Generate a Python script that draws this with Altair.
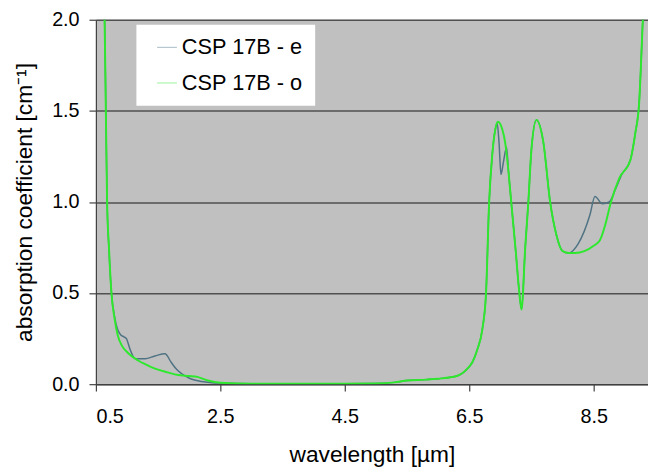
import altair as alt
import pandas as pd

# --- data -------------------------------------------------------------------
series = ["CSP 17B - e", "CSP 17B - o"]
colors = ["#4f7383", "#2ee82e"]

x_ticks = [0.5, 2.5, 4.5, 6.5, 8.5]
y_ticks = [0.0, 0.5, 1.0, 1.5, 2.0]

e_wl = [0.62, 0.64, 0.66, 0.68, 0.71, 0.75, 0.80, 0.85, 0.90, 0.95, 0.99, 1.05,
        1.13, 1.29, 1.45, 1.61, 1.71, 1.80, 1.87, 2.02, 2.2, 2.5, 3.0, 3.5, 4.0,
        4.5, 5.0, 5.3, 5.5, 5.8, 6.0, 6.3, 6.47, 6.55, 6.63, 6.71, 6.77, 6.82,
        6.87, 6.92, 6.95, 6.98, 7.01, 7.05, 7.10, 7.13, 7.18, 7.25, 7.30, 7.34,
        7.40, 7.45, 7.50, 7.58, 7.69, 7.80, 7.90, 8.00, 8.10, 8.25, 8.44, 8.52,
        8.64, 8.75, 8.85, 8.95, 9.09, 9.17, 9.23, 9.29, 9.33]
e_ac = [2.2, 2.0, 1.5, 1.0, 0.74, 0.5, 0.37, 0.30, 0.27, 0.26, 0.25, 0.19,
        0.14, 0.14, 0.155, 0.167, 0.12, 0.08, 0.06, 0.03, 0.015, 0.006, 0.003,
        0.003, 0.003, 0.003, 0.004, 0.01, 0.02, 0.025, 0.03, 0.045, 0.085, 0.12,
        0.19, 0.30, 0.5, 1.0, 1.26, 1.40, 1.43, 1.32, 1.15, 1.22, 1.30, 1.17,
        0.98, 0.72, 0.52, 0.41, 0.75, 1.0, 1.29, 1.45, 1.33, 1.0, 0.82, 0.73,
        0.72, 0.77, 0.93, 1.03, 0.99, 1.0, 1.07, 1.15, 1.23, 1.38, 1.54, 2.0, 2.3]

o_wl = [0.62, 0.64, 0.66, 0.68, 0.71, 0.75, 0.80, 0.85, 0.92, 1.02, 1.18, 1.29,
        1.45, 1.65, 1.82, 2.0, 2.13, 2.3, 2.5, 3.0, 3.5, 4.0, 4.5, 5.0, 5.3, 5.5,
        5.8, 6.0, 6.3, 6.47, 6.55, 6.63, 6.71, 6.77, 6.82, 6.87, 6.92, 6.96,
        7.03, 7.08, 7.13, 7.18, 7.25, 7.30, 7.34, 7.40, 7.45, 7.50, 7.58, 7.69,
        7.80, 7.90, 8.00, 8.10, 8.20, 8.35, 8.50, 8.60, 8.69, 8.77, 8.91, 9.09,
        9.17, 9.23, 9.29, 9.33]
o_ac = [2.2, 2.0, 1.5, 1.0, 0.75, 0.5, 0.36, 0.27, 0.21, 0.17, 0.13, 0.11,
        0.085, 0.065, 0.05, 0.045, 0.04, 0.02, 0.008, 0.003, 0.003, 0.003, 0.003,
        0.004, 0.01, 0.02, 0.025, 0.03, 0.045, 0.085, 0.12, 0.19, 0.30, 0.5, 1.0,
        1.26, 1.40, 1.44, 1.40, 1.32, 1.17, 0.98, 0.72, 0.52, 0.41, 0.75, 1.0,
        1.29, 1.45, 1.33, 1.0, 0.82, 0.73, 0.72, 0.72, 0.73, 0.76, 0.79, 0.88,
        0.99, 1.13, 1.23, 1.38, 1.54, 2.0, 2.3]

df = pd.concat([
    pd.DataFrame({"wl": e_wl, "ac": e_ac, "series": series[0]}),
    pd.DataFrame({"wl": o_wl, "ac": o_ac, "series": series[1]}),
])

FONT = "Liberation Sans"
AXC = "#404040"

x_enc = alt.X(
    "wl:Q",
    scale=alt.Scale(domain=[0.5, 9.373], nice=False, zero=False),
    axis=alt.Axis(values=x_ticks, format=".1f", title="wavelength [µm]",
                  grid=False, tickSize=7, labelPadding=16, titlePadding=17),
)
y_enc = alt.Y(
    "ac:Q",
    scale=alt.Scale(domain=[0, 2], nice=False),
    axis=alt.Axis(values=y_ticks, format=".1f",
                  title="absorption coefficient [cm⁻¹]",
                  grid=True, tickSize=7, labelPadding=10, titlePadding=15),
)
color_enc = alt.Color(
    "series:N",
    scale=alt.Scale(domain=series, range=colors),
    legend=alt.Legend(
        title=None, orient="none", legendX=41, legendY=5,
        fillColor="white", padding=12, symbolType="stroke", symbolSize=400,
        symbolStrokeWidth=1.2, symbolOpacity=0.4, symbolOffset=8,
        labelOffset=4, rowPadding=14, labelFontSize=22, labelFont=FONT,
        labelColor="black",
    ),
)

base = alt.Chart(df)
layer_e = base.transform_filter(alt.datum.series == series[0]).mark_line(
    clip=True, strokeWidth=1.5, interpolate="monotone"
).encode(x=x_enc, y=y_enc, color=color_enc)
layer_o = base.transform_filter(alt.datum.series == series[1]).mark_line(
    clip=True, strokeWidth=2, interpolate="monotone"
).encode(x=x_enc, y=y_enc, color=color_enc)

chart = alt.layer(layer_e, layer_o).properties(
    width=559, height=369,
    padding={"left": 89, "top": 9, "right": 0, "bottom": 84},
    autosize=alt.AutoSizeParams(type="none"),
    background="white",
).configure_view(
    fill="#c0c0c0", stroke=None
).configure_axis(
    labelFont=FONT, titleFont=FONT, labelFontSize=20, titleFontSize=23,
    titleFontWeight="normal", labelColor="black", titleColor="black",
    domainColor=AXC, tickColor=AXC, gridColor="#505050", gridWidth=1.5,
    domainWidth=1.2, tickWidth=1.2,
)

chart.save("out.html", embed_options={"renderer": "svg", "actions": False})
